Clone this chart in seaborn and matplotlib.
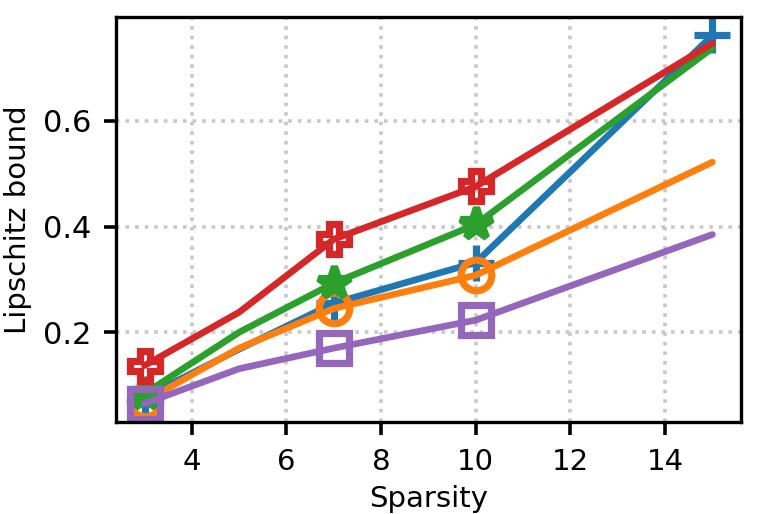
import matplotlib
matplotlib.use("Agg")
import matplotlib.pyplot as plt
import seaborn as sns

sns.set_style("ticks")
plt.rcParams['font.family'] = ['DejaVu Sans']
plt.rcParams['text.color'] = 'black'
plt.rcParams['axes.labelcolor'] = 'black'
plt.rcParams['xtick.color'] = 'black'
plt.rcParams['ytick.color'] = 'black'

# ---------- data ----------
sparsity = [3, 5, 7, 10, 15]
blue_vals = [0.077, 0.168, 0.255, 0.332, 0.762]
orange_vals = [0.069, 0.170, 0.245, 0.308, 0.522]
green_vals = [0.084, 0.200, 0.293, 0.404, 0.738]
red_vals = [0.137, 0.238, 0.376, 0.476, 0.747]
purple_vals = [0.065, 0.131, 0.170, 0.223, 0.385]

series = [
    (blue_vals, '#1f77b4', '+', [0, 2, 3, 4], 'full', 13),
    (orange_vals, '#ff7f0e', 'o', [0, 2, 3], 'none', 11),
    (green_vals, '#2ca02c', '*', [0, 2, 3], 'full', 12),
    (red_vals, '#d62728', 'P', [0, 2, 3], 'none', 11),
    (purple_vals, '#9467bd', 's', [0, 2, 3], 'none', 11),
]

# ---------- plot ----------
fig = plt.figure(figsize=(3.795, 2.57), dpi=200)
ax = fig.add_axes([0.153, 0.179, 0.823, 0.788])

for vals, col, mk, every, fs, ms in series:
    sns.lineplot(x=sparsity, y=vals, color=col, marker=mk, markevery=every,
                 fillstyle=fs, markersize=ms, markeredgewidth=2.6,
                 markeredgecolor=col, linewidth=2.4, ax=ax)

ax.grid(True, linestyle=':', color='#c8c8c8', linewidth=1.3)
ax.set_xticks([4, 6, 8, 10, 12, 14])
ax.set_yticks([0.2, 0.4, 0.6])
ax.tick_params(axis='x', labelsize=10.5, length=4.5, width=1.3, pad=5)
ax.tick_params(axis='y', labelsize=11, length=4.5, width=1.3, pad=4.5)
for s in ax.spines.values():
    s.set_linewidth(1.2)
    s.set_color('black')
ax.set_xlabel('Sparsity', fontsize=10.5, labelpad=3)
ax.set_ylabel('Lipschitz bound', fontsize=10.5, labelpad=4)

plt.savefig('out.png', dpi=200)
